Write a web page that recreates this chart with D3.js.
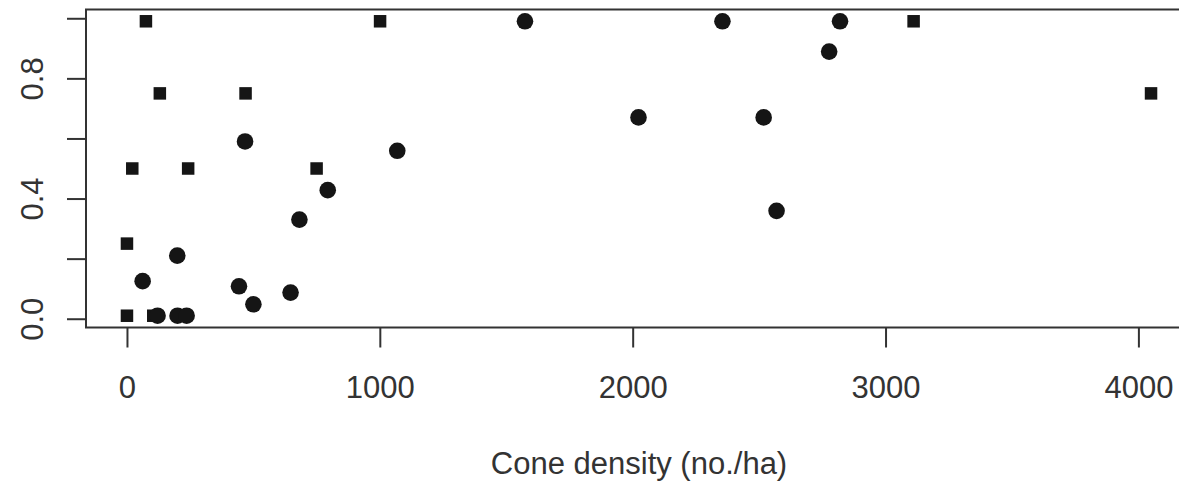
<!DOCTYPE html>
<html>
<head>
<meta charset="utf-8">
<script src="https://cdn.jsdelivr.net/npm/d3@7"></script>
<style>
  html, body { margin: 0; padding: 0; background: #fff; }
  svg { display: block; }
  text { font-family: "Liberation Sans", Arial, sans-serif; fill: #333; }
</style>
</head>
<body>
<svg id="chart" width="1179" height="485"></svg>
<script>
// Squares series: cone density (no./ha) and proportion
const squareX = [0, 104, 0, 21, 242, 75, 130, 469, 750, 1001, 3111, 4050];
const squareY = [0.01, 0.01, 0.25, 0.5, 0.5, 0.99, 0.75, 0.75, 0.5, 0.99, 0.99, 0.75];
// Circles series
const circleX = [62, 199, 121, 200, 236, 467, 443, 500, 647, 682, 794, 1069, 1574, 2023, 2355, 2820, 2777, 2518, 2569];
const circleY = [0.125, 0.21, 0.01, 0.01, 0.01, 0.59, 0.108, 0.048, 0.087, 0.33, 0.428, 0.559, 0.99, 0.67, 0.99, 0.99, 0.889, 0.67, 0.359];
// Axis ticks
const xTicks = [0, 1000, 2000, 3000, 4000];
const yTicks = [0, 0.2, 0.4, 0.6, 0.8, 1.0];
const yTickLabels = ["0.0", "", "0.4", "", "0.8", ""];
const xLabel = "Cone density (no./ha)";

const svg = d3.select("#chart");
const plot = { left: 86, right: 1192, top: 9.5, bottom: 327.5 };

function padded(vals) {
  const [a, b] = d3.extent(vals);
  const p = (b - a) * 0.04;
  return [a - p, b + p];
}
const x = d3.scaleLinear().domain(padded(squareX.concat(circleX))).range([plot.left, plot.right]);
const y = d3.scaleLinear().domain(padded(squareY.concat(circleY))).range([plot.bottom, plot.top]);

const ink = "#333";

// Box
svg.append("rect")
  .attr("x", plot.left).attr("y", plot.top)
  .attr("width", plot.right - plot.left).attr("height", plot.bottom - plot.top)
  .attr("fill", "none").attr("stroke", ink).attr("stroke-width", 2);

// X axis
const xAxis = svg.append("g")
  .attr("transform", `translate(0,${plot.bottom})`)
  .call(d3.axisBottom(x).tickValues(xTicks).tickSize(20).tickPadding(28).tickFormat(d3.format("d")));
xAxis.select(".domain").remove();
xAxis.selectAll(".tick line").attr("stroke", ink).attr("stroke-width", 2);
xAxis.selectAll(".tick text")
  .attr("font-size", 31).attr("fill", ink)
  .attr("font-family", "'Liberation Sans', Arial, sans-serif")
  .attr("dy", null).attr("y", 70.5);

// Y axis
const yAxis = svg.append("g")
  .attr("transform", `translate(${plot.left},0)`)
  .call(d3.axisLeft(y).tickValues(yTicks).tickSize(19).tickFormat((d, i) => yTickLabels[i]));
yAxis.select(".domain").remove();
yAxis.selectAll(".tick line").attr("stroke", ink).attr("stroke-width", 2);
yAxis.selectAll(".tick text")
  .attr("font-size", 31).attr("fill", ink)
  .attr("font-family", "'Liberation Sans', Arial, sans-serif")
  .attr("x", null).attr("dy", null)
  .attr("text-anchor", "middle")
  .attr("transform", "translate(-43,0) rotate(-90)");

// X title
svg.append("text")
  .attr("x", (plot.left + plot.right) / 2).attr("y", 474)
  .attr("text-anchor", "middle").attr("font-size", 31).attr("fill", ink)
  .text(xLabel);

// Points
const sq = squareX.map((v, i) => ({ x: v, y: squareY[i] }));
const ci = circleX.map((v, i) => ({ x: v, y: circleY[i] }));
const side = 12.5;
svg.append("g").selectAll("rect").data(sq).join("rect")
  .attr("x", d => x(d.x) - side / 2).attr("y", d => y(d.y) - side / 2)
  .attr("width", side).attr("height", side).attr("fill", "#151515");
svg.append("g").selectAll("circle").data(ci).join("circle")
  .attr("cx", d => x(d.x)).attr("cy", d => y(d.y)).attr("r", 8.3).attr("fill", "#151515");
</script>
</body>
</html>
